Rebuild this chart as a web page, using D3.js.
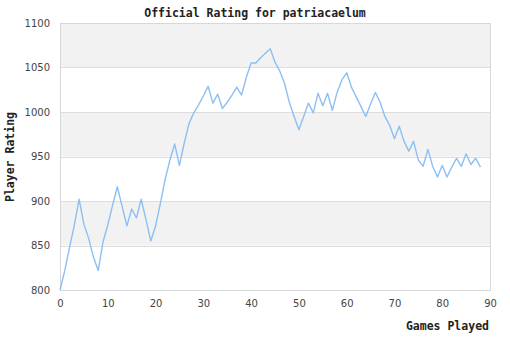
<!DOCTYPE html>
<html>
<head>
<meta charset="utf-8">
<script src="https://cdn.jsdelivr.net/npm/d3@7"></script>
<style>
  html, body { margin: 0; padding: 0; background: #fff; }
  svg { display: block; }
</style>
</head>
<body>
<svg id="chart" width="510" height="340"></svg>
<script>
// Rating after each game played
const games = d3.range(0, 89);
const ratings = [
  800, 822, 848, 873, 902, 874, 858, 837, 822, 854,
  873, 895, 916, 894, 872, 891, 881, 902, 879, 855,
  872, 897, 924, 946, 964, 940, 965, 987, 999, 1008,
  1018, 1029, 1010, 1020, 1004, 1011, 1019, 1028, 1019, 1039,
  1055, 1055, 1061, 1066, 1071, 1056, 1046, 1032, 1011, 995,
  980, 995, 1010, 999, 1021, 1007, 1021, 1002, 1022, 1036,
  1044, 1028, 1017, 1006, 995, 1009, 1022, 1011, 995, 985,
  970, 984, 967, 956, 967, 946, 939, 958, 939, 927,
  940, 927, 938, 948, 939, 953, 941, 948, 938
];
const xTicks = [0, 10, 20, 30, 40, 50, 60, 70, 80, 90];
const yTicks = [800, 850, 900, 950, 1000, 1050, 1100];

const titleText = "Official Rating for patriacaelum";
const xTitle = "Games Played";
const yTitle = "Player Rating";

const svg = d3.select("#chart");
const plot = { left: 60, right: 490, top: 23, bottom: 290 };

const x = d3.scaleLinear().domain([0, 90]).range([plot.left, plot.right]);
const y = d3.scaleLinear().domain([800, 1100]).range([plot.bottom, plot.top]);

// Alternating horizontal bands
const bands = d3.pairs(yTicks);
svg.append("g").selectAll("rect").data(bands).join("rect")
  .attr("x", plot.left)
  .attr("width", plot.right - plot.left)
  .attr("y", d => y(d[1]))
  .attr("height", d => y(d[0]) - y(d[1]))
  .attr("fill", (d, i) => i % 2 === 1 ? "#f2f2f2" : "#ffffff");

// Horizontal grid lines
svg.append("g").selectAll("line").data(yTicks).join("line")
  .attr("x1", plot.left).attr("x2", plot.right)
  .attr("y1", d => Math.round(y(d)) + 0.5).attr("y2", d => Math.round(y(d)) + 0.5)
  .attr("stroke", "#dddddd").attr("stroke-width", 1);

// Plot frame
svg.append("rect")
  .attr("x", plot.left + 0.5).attr("y", plot.top + 0.5)
  .attr("width", plot.right - plot.left).attr("height", plot.bottom - plot.top)
  .attr("fill", "none").attr("stroke", "#d8d8d8");

// Axes (labels only; lines come from the frame)
const yAxis = svg.append("g")
  .attr("transform", `translate(${plot.left},0)`)
  .call(d3.axisLeft(y).tickValues(yTicks).tickFormat(d3.format("d")).tickSize(0).tickPadding(10));
const xAxis = svg.append("g")
  .attr("transform", `translate(0,${plot.bottom})`)
  .call(d3.axisBottom(x).tickValues(xTicks).tickFormat(d3.format("d")).tickSize(0).tickPadding(10));
[xAxis, yAxis].forEach(g => {
  g.select(".domain").remove();
  g.selectAll("text")
    .attr("fill", "#444")
    .style("font-family", "'DejaVu Sans', sans-serif")
    .style("font-size", "10px");
});

// Rating line
const line = d3.line()
  .x((d, i) => x(games[i]))
  .y(d => y(d));
svg.append("path")
  .datum(ratings)
  .attr("d", line)
  .attr("fill", "none")
  .attr("stroke", "#8dbff2")
  .attr("stroke-width", 1.4)
  .attr("stroke-linejoin", "round");

// Titles
const mono = "'DejaVu Sans Mono', 'Liberation Mono', monospace";
svg.append("text")
  .attr("x", 255).attr("y", 17)
  .attr("text-anchor", "middle")
  .style("font-family", mono).style("font-weight", "bold").style("font-size", "11.5px")
  .attr("fill", "#222")
  .text(titleText);
svg.append("text")
  .attr("x", 489).attr("y", 330)
  .attr("text-anchor", "end")
  .style("font-family", mono).style("font-weight", "bold").style("font-size", "11.5px")
  .attr("fill", "#222")
  .text(xTitle);
svg.append("text")
  .attr("transform", "translate(14,157) rotate(-90)")
  .attr("text-anchor", "middle")
  .style("font-family", mono).style("font-weight", "bold").style("font-size", "11.5px")
  .attr("fill", "#222")
  .text(yTitle);
</script>
</body>
</html>
